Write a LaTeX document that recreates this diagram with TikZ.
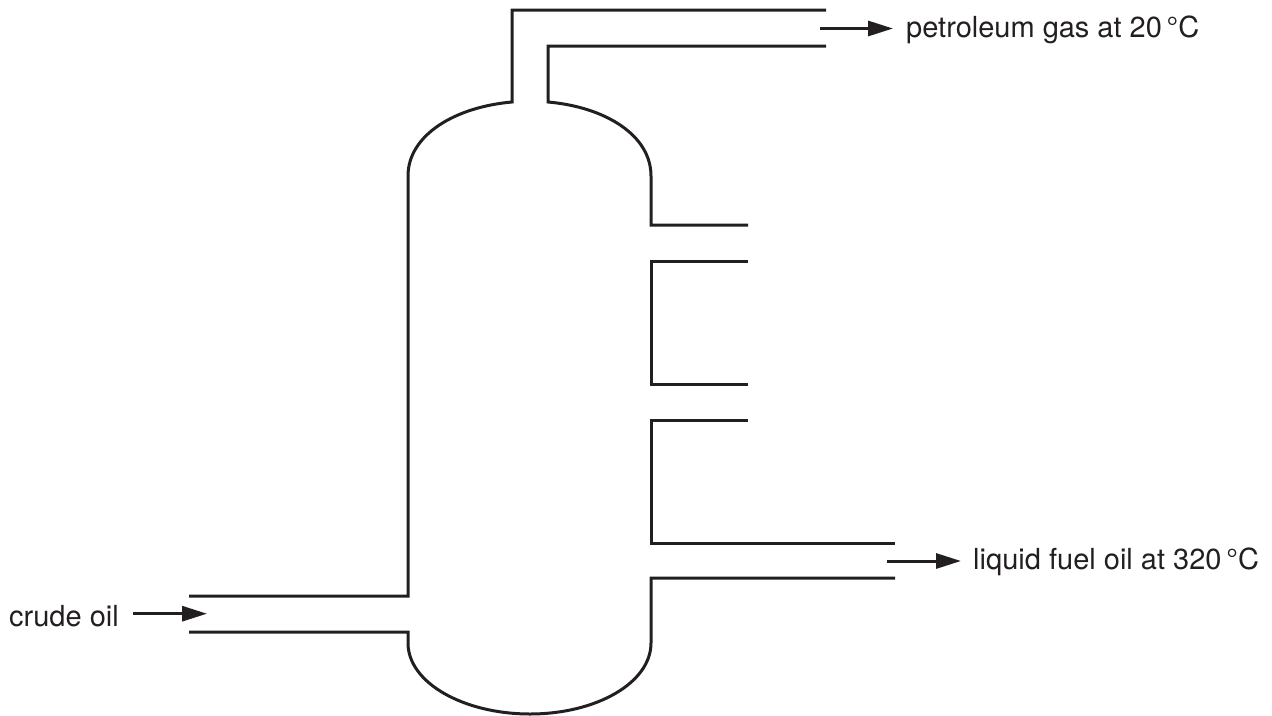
\documentclass[tikz,border=0pt]{standalone}
\usepackage{fontspec}
\setmainfont{TeX Gyre Heros}
\usetikzlibrary{arrows.meta}
\definecolor{ink}{RGB}{35,31,32}
\tikzset{
  vessel/.style={draw=ink,line width=3pt,line join=miter,line cap=butt},
  flow/.style={draw=ink,line width=3pt,-{Triangle[length=25pt,width=15pt]}},
  lab/.style={anchor=base west,inner sep=0pt,text=ink,font=\fontsize{29}{34}\selectfont}
}
\begin{document}
\begin{tikzpicture}[x=1pt,y=-1pt]
\useasboundingbox (0,0) rectangle (1272,715);
% left wall with top pipe and inlet
\draw[vessel] (826,10) -- (512,10) -- (512,102)
  .. controls (455,107) and (408,135) .. (408,176)
  -- (408,596) -- (189,596);
% right wall of top pipe down to first side outlet
\draw[vessel] (826,46) -- (548,46) -- (548,102)
  .. controls (605,107) and (651,135) .. (651,176)
  -- (651,225) -- (748,225);
\draw[vessel] (748,261) -- (651,261) -- (651,384) -- (748,384);
\draw[vessel] (748,420) -- (651,420) -- (651,543) -- (895,543);
% bottom dish
\draw[vessel] (895,578) -- (651,578) -- (651,643)
  .. controls (651,683) and (596,714) .. (530,714)
  .. controls (464,714) and (408,683) .. (408,643)
  -- (408,632) -- (189,632);
% labels
\node[lab] (gas) at (906,37) {petroleum gas at 20\,°C};
\node[lab] (fuel) at (973,569) {liquid fuel oil at 320\,°C};
\node[lab] (crude) at (9,626) {crude oil};
% arrows
\coordinate (gasA) at (820,28.5);
\coordinate (gasB) at (893,28.5);
\coordinate (fuelA) at (887,561);
\coordinate (fuelB) at (961,561);
\coordinate (crudeA) at (133,613.7);
\coordinate (crudeB) at (207,613.7);
\draw[flow] (gasA) -- (gasB);
\draw[flow] (fuelA) -- (fuelB);
\draw[flow] (crudeA) -- (crudeB);
\end{tikzpicture}
\end{document}
